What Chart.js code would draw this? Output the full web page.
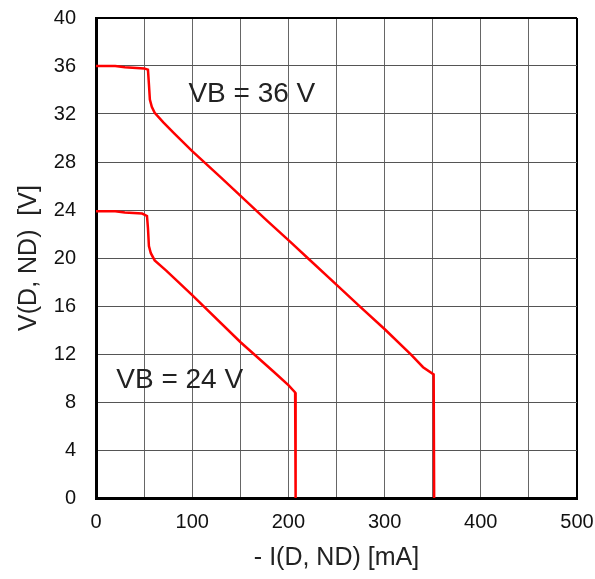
<!DOCTYPE html>
<html>
<head>
<meta charset="utf-8">
<script src="https://cdn.jsdelivr.net/npm/chart.js@4/dist/chart.umd.min.js"></script>
<style>
  html, body { margin: 0; padding: 0; background: #fff; }
  #wrap { width: 595px; height: 579px; }
</style>
</head>
<body>
<div id="wrap"><canvas id="chart" width="595" height="579"></canvas></div>
<script>
// current (mA) and voltage (V)
const i36 = [0, 20, 30, 50, 54, 55, 56, 58, 61, 70, 81, 100, 130, 150, 178, 202, 220, 251, 275, 301, 328, 340, 351, 351.5];
const v36 = [36, 36, 35.9, 35.8, 35.7, 34.5, 33.2, 32.6, 32.1, 31.3, 30.4, 28.9, 26.7, 25.2, 23.1, 21.35, 20, 17.7, 15.9, 14, 11.9, 10.9, 10.3, 0];
const i24 = [0, 20, 30, 48, 53, 54, 55, 57, 61, 73, 81, 100, 150, 185, 200, 207, 207.5];
const v24 = [23.9, 23.9, 23.8, 23.7, 23.5, 22.5, 21, 20.4, 19.8, 18.95, 18.35, 16.9, 13, 10.5, 9.4, 8.8, 0];

const labels = ['VB = 36 V', 'VB = 24 V'];
const labelAt = [[162, 33.65], [87, 9.85]];

const FONT = "'Liberation Sans', Arial, sans-serif";

const toPts = (xs, ys) => xs.map((x, k) => ({ x: x, y: ys[k] }));

const textPlugin = {
  id: 'curveLabels',
  afterDatasetsDraw(chart) {
    const { ctx, scales } = chart;
    ctx.save();
    ctx.font = '28px ' + FONT;
    ctx.fillStyle = '#222';
    ctx.textAlign = 'center';
    ctx.textBaseline = 'middle';
    labels.forEach((t, k) => {
      ctx.fillText(t, scales.x.getPixelForValue(labelAt[k][0]), scales.y.getPixelForValue(labelAt[k][1]));
    });
    ctx.restore();
  }
};

new Chart(document.getElementById('chart'), {
  type: 'scatter',
  data: {
    datasets: [
      { data: toPts(i36, v36), showLine: true, borderColor: '#ff0000', borderWidth: 2.5, pointRadius: 0, tension: 0 },
      { data: toPts(i24, v24), showLine: true, borderColor: '#ff0000', borderWidth: 2.5, pointRadius: 0, tension: 0 }
    ]
  },
  options: {
    responsive: false,
    animation: false,
    layout: { padding: { top: 18, right: 18, left: 0, bottom: 0 } },
    plugins: { legend: { display: false }, tooltip: { enabled: false } },
    scales: {
      x: {
        type: 'linear',
        min: 0,
        max: 500,
        ticks: {
          stepSize: 50,
          padding: 12,
          color: '#111',
          font: { family: FONT, size: 20 },
          maxRotation: 0,
          autoSkip: false,
          callback: v => (v % 100 === 0 ? v : '')
        },
        grid: {
          drawTicks: false,
          color: c => (c.tick && c.tick.value === 500 ? '#000' : '#666'),
          lineWidth: c => (c.tick && c.tick.value === 500 ? 2 : 1)
        },
        border: { display: true, color: '#000', width: 3 },
        title: { display: true, text: '- I(D, ND) [mA]', color: '#222', font: { family: FONT, size: 25 }, padding: { top: 6, bottom: 6 } },
        afterFit: s => { s.height = 81; s.paddingLeft = 0; s.paddingRight = 0; }
      },
      y: {
        min: 0,
        max: 40,
        ticks: {
          stepSize: 4,
          padding: 20,
          color: '#111',
          font: { family: FONT, size: 20 }
        },
        grid: {
          drawTicks: false,
          color: c => (c.tick && c.tick.value === 40 ? '#000' : '#555'),
          lineWidth: c => (c.tick && c.tick.value === 40 ? 2 : 1)
        },
        border: { display: true, color: '#000', width: 3 },
        title: { display: true, text: 'V(D, ND)  [V]', color: '#222', font: { family: FONT, size: 25 }, padding: { top: 14, bottom: 6 } },
        afterFit: s => { s.width = 96; s.paddingTop = 0; s.paddingBottom = 0; }
      }
    }
  },
  plugins: [textPlugin]
});
</script>
</body>
</html>
